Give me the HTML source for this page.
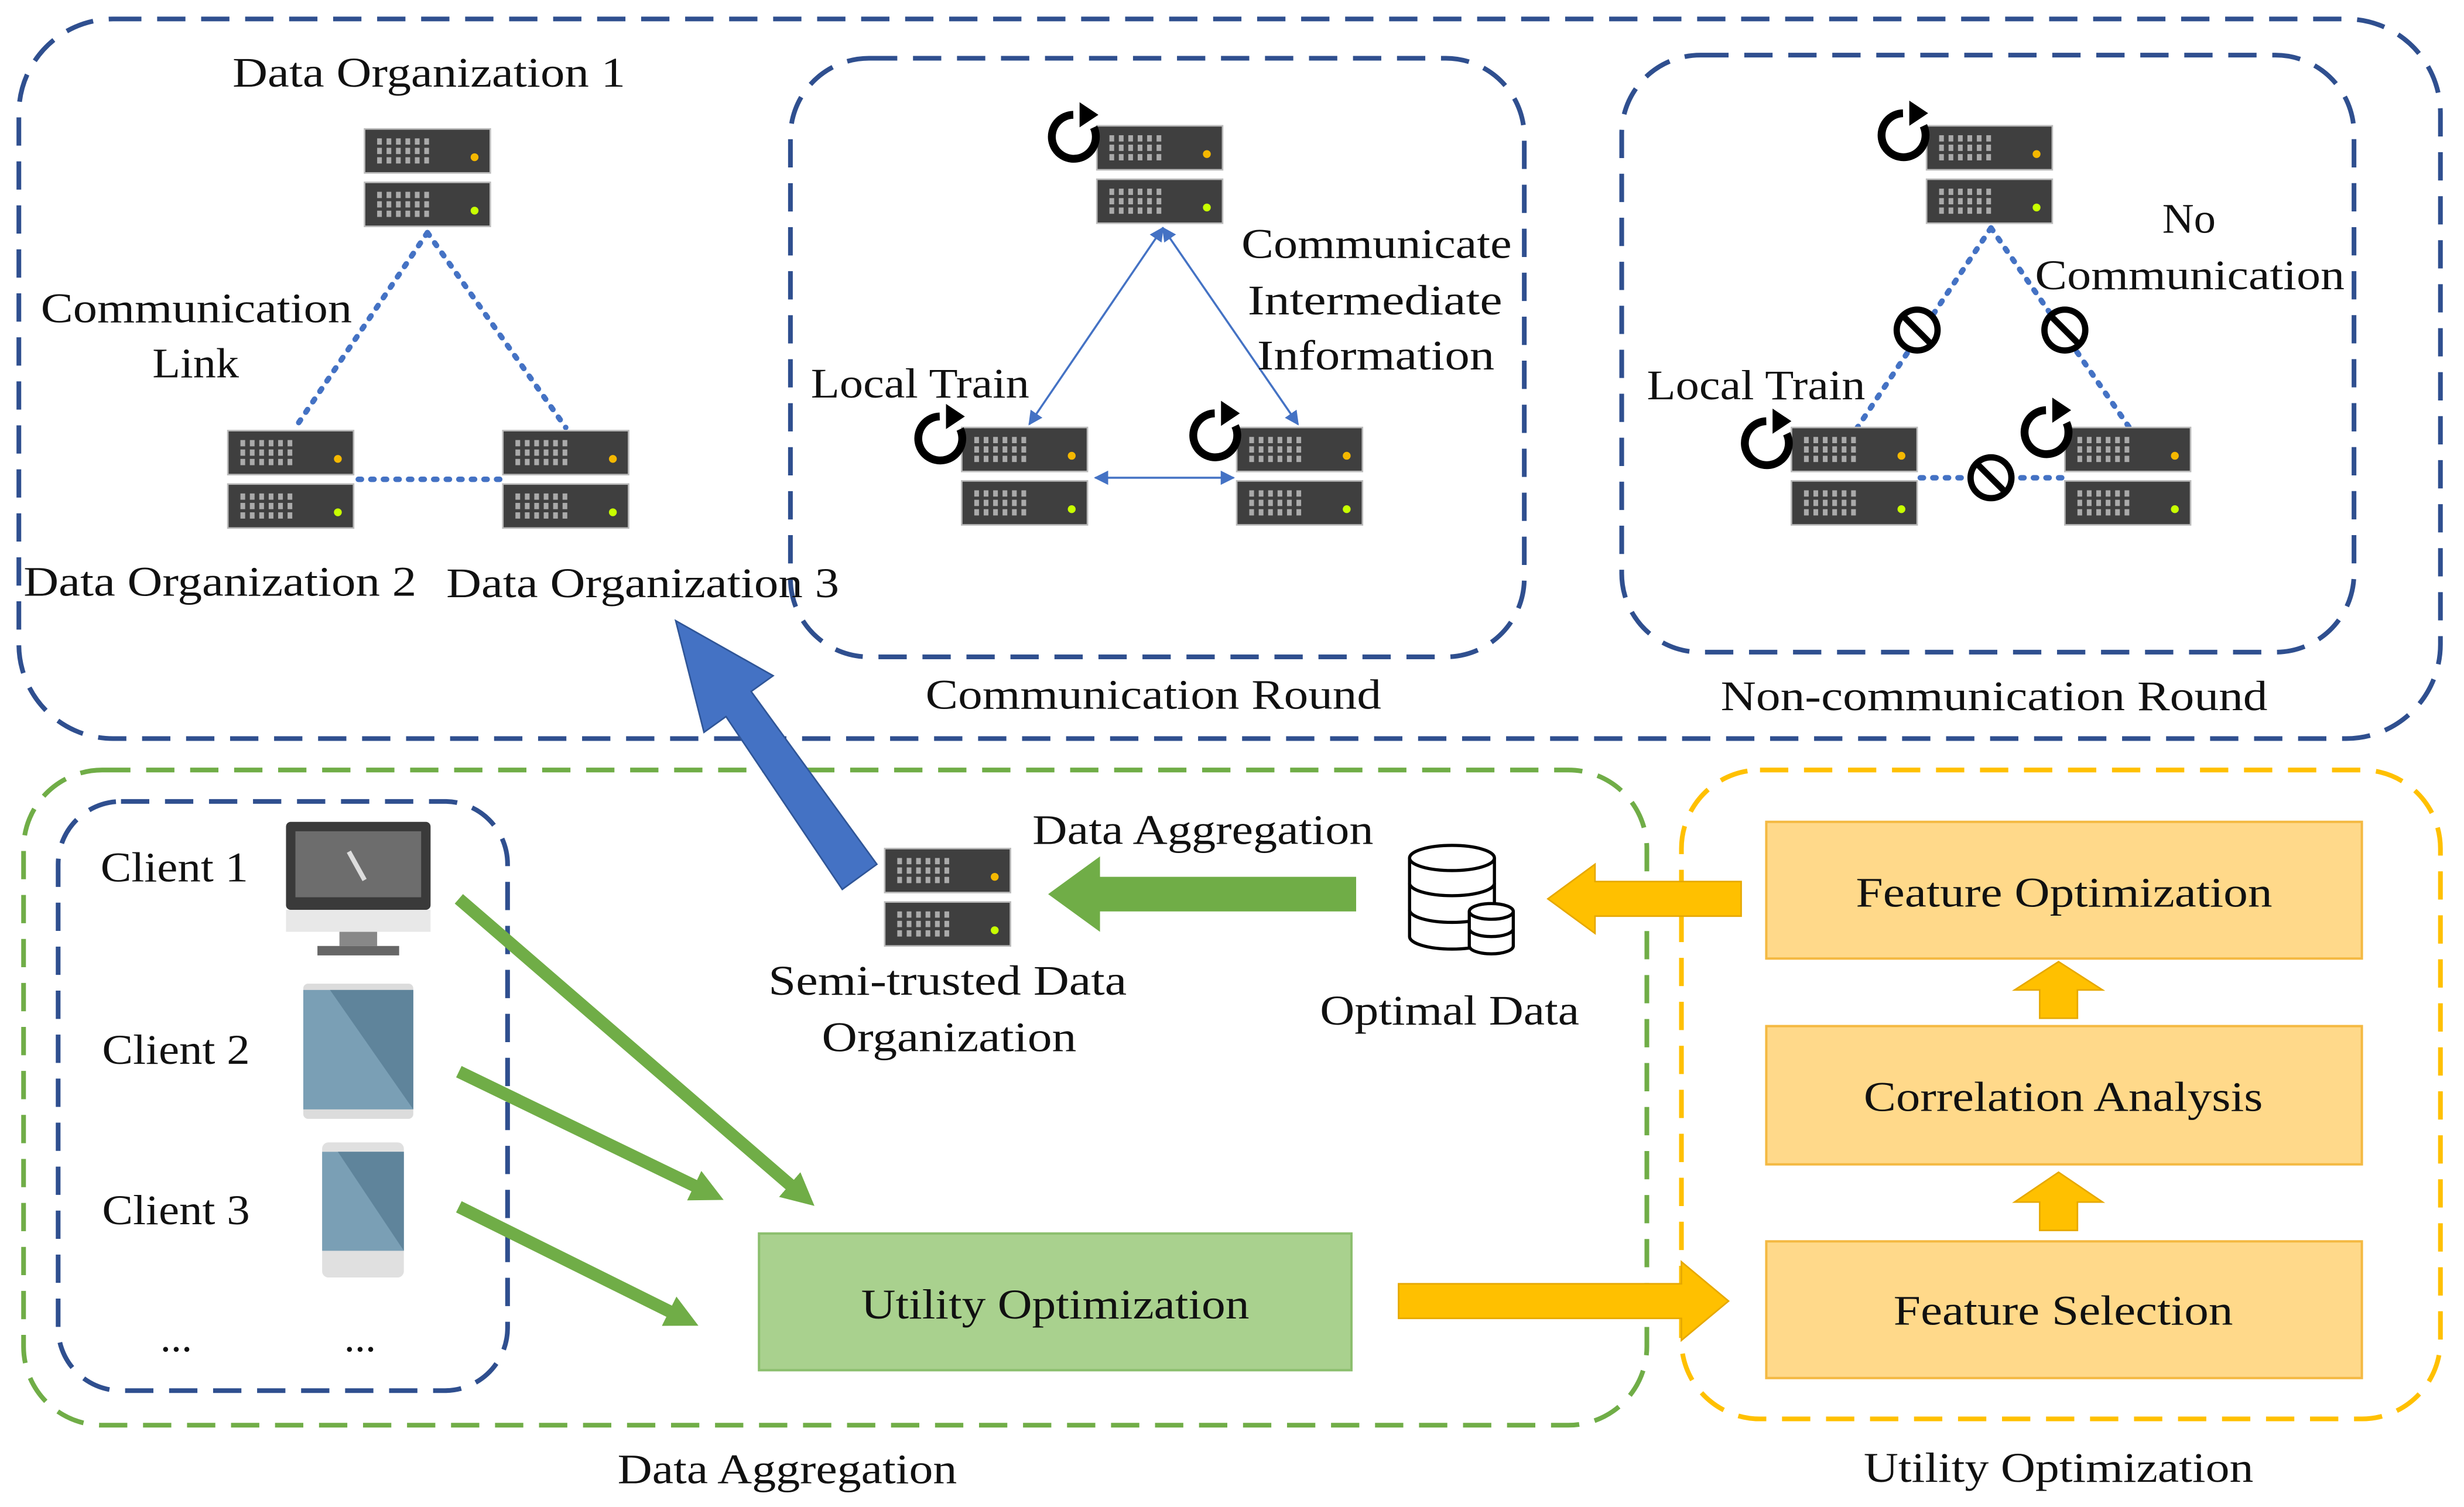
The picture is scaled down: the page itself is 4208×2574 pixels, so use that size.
<!DOCTYPE html>
<html><head><meta charset="utf-8"><style>
html,body{margin:0;padding:0;background:#fff;}
svg{display:block;}
text{font-family:"Liberation Serif",serif;font-size:27px;fill:#111;}
</style></head><body>
<svg width="4208" height="2574" viewBox="0 0 1568 959" xmlns="http://www.w3.org/2000/svg">
<defs>
<g id="unit">
<rect x="0" y="0" width="80" height="28" fill="#3f3f3f" stroke="#bbb" stroke-width="1"/>
<g fill="#aaa">
<rect x="8" y="6" width="3" height="4"/><rect x="14" y="6" width="3" height="4"/><rect x="20" y="6" width="3" height="4"/><rect x="26" y="6" width="3" height="4"/><rect x="32" y="6" width="3" height="4"/><rect x="38" y="6" width="3" height="4"/>
<rect x="8" y="12" width="3" height="4"/><rect x="14" y="12" width="3" height="4"/><rect x="20" y="12" width="3" height="4"/><rect x="26" y="12" width="3" height="4"/><rect x="32" y="12" width="3" height="4"/><rect x="38" y="12" width="3" height="4"/>
<rect x="8" y="18" width="3" height="4"/><rect x="14" y="18" width="3" height="4"/><rect x="20" y="18" width="3" height="4"/><rect x="26" y="18" width="3" height="4"/><rect x="32" y="18" width="3" height="4"/><rect x="38" y="18" width="3" height="4"/>
</g></g>
<g id="srv">
<use href="#unit"/><circle cx="70" cy="18" r="2.5" fill="#f5b800"/>
<use href="#unit" y="34"/><circle cx="70" cy="52" r="2.5" fill="#c8ff00"/>
</g>
<g id="ref">
<path d="M 13 -6 A 14 14 0 1 1 0 -14" fill="none" stroke="#000" stroke-width="5"/>
<polygon points="-2,-22 10,-14 -2,-6" fill="#000" transform="translate(6,0)"/>
</g>
<g id="no">
<circle r="13" fill="#fff" stroke="#000" stroke-width="4"/>
<line x1="-9" y1="-9" x2="9" y2="9" stroke="#000" stroke-width="4"/>
</g>
<marker id="ah" viewBox="0 0 10 10" refX="9" refY="5" markerWidth="7" markerHeight="7" orient="auto-start-reverse"><path d="M0,0 L10,5 L0,10 z" fill="#4472C4"/></marker>
<marker id="gh" viewBox="0 0 10 10" refX="6" refY="5" markerWidth="2.6" markerHeight="2.6" orient="auto"><path d="M0,0 L10,5 L0,10 z" fill="#70AD47"/></marker>
</defs>

<g fill="none" stroke-width="3" stroke-dasharray="18 10">
<rect x="12" y="12" width="1541" height="458" rx="60" stroke="#2F4F8F"/>
<rect x="503" y="37" width="467" height="381" rx="50" stroke="#2F4F8F"/>
<rect x="1032" y="35" width="466" height="380" rx="50" stroke="#2F4F8F"/>
<rect x="15" y="490" width="1033" height="417" rx="50" stroke="#70AD47"/>
<rect x="37" y="510" width="286" height="375" rx="40" stroke="#2F4F8F"/>
<rect x="1070" y="490" width="483" height="413" rx="50" stroke="#FFC000"/>
</g>

<g stroke="#4472C4" stroke-width="3.5" stroke-dasharray="2 6" stroke-linecap="round" fill="none">
<line x1="272" y1="148" x2="188" y2="272"/><line x1="272" y1="148" x2="360" y2="272"/><line x1="228" y1="305" x2="320" y2="305"/>
</g>
<use href="#srv" x="232" y="82"/><use href="#srv" x="145" y="274"/><use href="#srv" x="320" y="274"/>
<text x="148" y="55" textLength="250" lengthAdjust="spacingAndGlyphs">Data Organization 1</text>
<text x="26" y="205" textLength="198" lengthAdjust="spacingAndGlyphs">Communication</text>
<text x="97" y="240" textLength="55" lengthAdjust="spacingAndGlyphs">Link</text>
<text x="15" y="379" textLength="250" lengthAdjust="spacingAndGlyphs">Data Organization 2</text>
<text x="284" y="380" textLength="250" lengthAdjust="spacingAndGlyphs">Data Organization 3</text>

<g stroke="#4472C4" stroke-width="1.3" fill="none" marker-end="url(#ah)" marker-start="url(#ah)">
<line x1="740" y1="145" x2="655" y2="270"/><line x1="740" y1="145" x2="826" y2="270"/><line x1="697" y1="304" x2="785" y2="304"/>
</g>
<use href="#srv" x="698" y="80"/><use href="#srv" x="612" y="272"/><use href="#srv" x="787" y="272"/>
<use href="#ref" x="683" y="87"/><use href="#ref" x="598" y="279"/><use href="#ref" x="773" y="277"/>
<text x="790" y="164" textLength="172" lengthAdjust="spacingAndGlyphs">Communicate</text>
<text x="794" y="200" textLength="162" lengthAdjust="spacingAndGlyphs">Intermediate</text>
<text x="800" y="235" textLength="151" lengthAdjust="spacingAndGlyphs">Information</text>
<text x="516" y="253" textLength="139" lengthAdjust="spacingAndGlyphs">Local Train</text>
<text x="589" y="451" textLength="290" lengthAdjust="spacingAndGlyphs">Communication Round</text>

<g stroke="#4472C4" stroke-width="3.5" stroke-dasharray="2 6" stroke-linecap="round" fill="none">
<line x1="1267" y1="145" x2="1182" y2="272"/><line x1="1267" y1="145" x2="1355" y2="272"/><line x1="1222" y1="304" x2="1314" y2="304"/>
</g>
<use href="#srv" x="1226" y="80"/><use href="#srv" x="1140" y="272"/><use href="#srv" x="1314" y="272"/>
<use href="#ref" x="1211" y="86"/><use href="#ref" x="1124" y="282"/><use href="#ref" x="1302" y="275"/>
<use href="#no" x="1220" y="210"/><use href="#no" x="1314" y="210"/><use href="#no" x="1267" y="304"/>
<text x="1376" y="148" textLength="34" lengthAdjust="spacingAndGlyphs">No</text>
<text x="1295" y="184" textLength="197" lengthAdjust="spacingAndGlyphs">Communication</text>
<text x="1048" y="254" textLength="139" lengthAdjust="spacingAndGlyphs">Local Train</text>
<text x="1095" y="452" textLength="348" lengthAdjust="spacingAndGlyphs">Non-communication Round</text>

<polygon points="558,550 536,566 462,456 448,466 430,395 492,430 478,440" fill="#4472C4" stroke="#2F5597" stroke-width="1"/>

<use href="#srv" x="563" y="540"/>
<text x="489" y="633" textLength="228" lengthAdjust="spacingAndGlyphs">Semi-trusted Data</text>
<text x="523" y="669" textLength="162" lengthAdjust="spacingAndGlyphs">Organization</text>
<text x="657" y="537" textLength="217" lengthAdjust="spacingAndGlyphs">Data Aggregation</text>
<polygon points="863,558 700,558 700,545 667,569 700,593 700,580 863,580" fill="#70AD47"/>

<g fill="#fff" stroke="#000" stroke-width="2">
<path d="M897,546 v50 a27,8 0 0 0 54,0 v-50"/>
<ellipse cx="924" cy="546" rx="27" ry="8"/>
<path d="M897,562 a27,8 0 0 0 54,0"/><path d="M897,579 a27,8 0 0 0 54,0"/>
<path d="M935,580 v22 a14,5 0 0 0 28,0 v-22"/>
<ellipse cx="949" cy="580" rx="14" ry="5"/>
<path d="M935,591 a14,5 0 0 0 28,0"/>
</g>
<text x="840" y="652" textLength="165" lengthAdjust="spacingAndGlyphs">Optimal Data</text>
<polygon points="1108,561 1015,561 1015,550 985,572 1015,594 1015,583 1108,583" fill="#FFC000" stroke="#E6A800" stroke-width="1"/>

<g fill="#FFD98A" stroke="#F4B942" stroke-width="1.5">
<rect x="1124" y="523" width="379" height="87"/>
<rect x="1124" y="653" width="379" height="88"/>
<rect x="1124" y="790" width="379" height="87"/>
</g>
<text x="1181" y="577" textLength="265" lengthAdjust="spacingAndGlyphs">Feature Optimization</text>
<text x="1186" y="707" textLength="254" lengthAdjust="spacingAndGlyphs">Correlation Analysis</text>
<text x="1205" y="843" textLength="216" lengthAdjust="spacingAndGlyphs">Feature Selection</text>
<polygon points="1298,648 1298,630 1282,630 1310,612 1338,630 1322,630 1322,648" fill="#FFC000" stroke="#E6A800"/>
<polygon points="1298,783 1298,765 1282,765 1310,746 1338,765 1322,765 1322,783" fill="#FFC000" stroke="#E6A800"/>
<text x="1186" y="943" textLength="248" lengthAdjust="spacingAndGlyphs">Utility Optimization</text>

<rect x="483" y="785" width="377" height="87" fill="#A9D18E" stroke="#8CBF6E" stroke-width="1.5"/>
<text x="548" y="839" textLength="247" lengthAdjust="spacingAndGlyphs">Utility Optimization</text>
<polygon points="890,817 1070,817 1070,803 1100,828 1070,853 1070,839 890,839" fill="#FFC000" stroke="#E6A800" stroke-width="1"/>
<text x="393" y="944" textLength="216" lengthAdjust="spacingAndGlyphs">Data Aggregation</text>

<text x="64" y="561" textLength="94" lengthAdjust="spacingAndGlyphs">Client 1</text>
<text x="65" y="677" textLength="94" lengthAdjust="spacingAndGlyphs">Client 2</text>
<text x="65" y="779" textLength="94" lengthAdjust="spacingAndGlyphs">Client 3</text>
<text x="102" y="860">...</text>
<text x="219" y="860">...</text>
<rect x="182" y="523" width="92" height="56" rx="3" fill="#3a3a3a"/>
<rect x="188" y="529" width="80" height="42" fill="#6d6d6d"/>
<line x1="222" y1="542" x2="232" y2="560" stroke="#ddd" stroke-width="3"/>
<rect x="182" y="579" width="92" height="14" fill="#e8e8e8"/>
<rect x="216" y="593" width="24" height="9" fill="#888"/>
<rect x="202" y="602" width="52" height="6" fill="#666"/>
<rect x="193" y="626" width="70" height="86" rx="3" fill="#dcdcdc"/>
<rect x="193" y="630" width="70" height="76" fill="#7a9fb5"/>
<polygon points="210,630 263,630 263,706" fill="#5f849b"/>
<rect x="205" y="727" width="52" height="86" rx="4" fill="#e0e0e0"/>
<rect x="205" y="733" width="52" height="63" fill="#7a9fb5"/>
<polygon points="215,733 257,733 257,796" fill="#5f849b"/>

<g stroke="#70AD47" stroke-width="8" marker-end="url(#gh)">
<line x1="292" y1="572" x2="512" y2="762"/>
<line x1="292" y1="682" x2="453" y2="760"/>
<line x1="292" y1="768" x2="437" y2="840"/>
</g>
</svg>
</body></html>
